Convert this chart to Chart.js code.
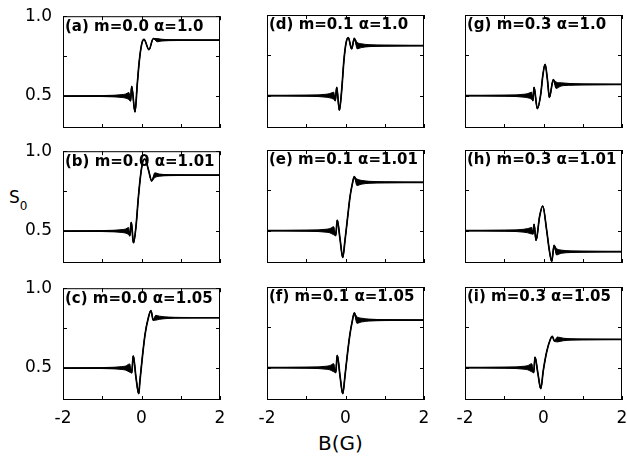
<!DOCTYPE html>
<html>
<head>
<meta charset="utf-8">
<script src="https://cdn.jsdelivr.net/npm/chart.js@4.4.1/dist/chart.umd.min.js"></script>
<style>
  body { margin: 0; background: #fff; }
  #wrap { position: relative; width: 627px; height: 466px; overflow: hidden; }
  #wrap canvas { position: absolute; }
  .lbl { position: absolute; font-family: "DejaVu Sans", sans-serif; color: #000; white-space: nowrap; }
</style>
</head>
<body>
<div id="wrap">
  <div class="lbl" style="left:9px;top:189px;font-size:17px;line-height:17px;">S<span style="font-size:12px;position:relative;top:7px;">0</span></div>
  <div class="lbl" style="left:318px;top:433px;font-size:20px;line-height:20px;">B(G)</div>
</div>
<script>
// tick values shared by all panels
var xTicks = [-2, -1, 0, 1, 2];
var yTicks = [0.5, 0.75, 1.0];

// (a) m=0.0 a=1.0   B values, s0 values, half width of the fast ripple
var aB = [-2, -1.0, -0.7, -0.5, -0.4, -0.32, -0.28, -0.25, -0.166, -0.107, -0.056, 0.005, 0.064, 0.19, 0.30, 0.4, 0.5, 0.7, 1.0, 2];
var aS = [0.5, 0.5, 0.5, 0.5, 0.5, 0.5, 0.47, 0.56, 0.40, 0.577, 0.72, 0.825, 0.855, 0.79, 0.86, 0.85, 0.85, 0.85, 0.85, 0.85];
var aF = [0, 0.003, 0.005, 0.009, 0.013, 0.022, 0, 0, 0, 0, 0, 0, 0, 0, 0, 0.01, 0.006, 0.003, 0.002, 0];

// (b) m=0.0 a=1.01
var bB = [-2, -1.0, -0.7, -0.5, -0.4, -0.33, -0.3, -0.26, -0.205, -0.14, -0.08, -0.02, 0.04, 0.09, 0.18, 0.26, 0.34, 0.45, 0.7, 1.0, 2];
var bS = [0.5, 0.5, 0.5, 0.5, 0.5, 0.5, 0.47, 0.555, 0.426, 0.53, 0.71, 0.855, 0.94, 0.95, 0.88, 0.814, 0.85, 0.85, 0.85, 0.85, 0.85];
var bF = [0, 0.003, 0.005, 0.009, 0.013, 0.022, 0, 0, 0, 0, 0, 0, 0, 0, 0, 0, 0.015, 0.007, 0.003, 0.002, 0];

// (c) m=0.0 a=1.05
var cB = [-2, -1.0, -0.7, -0.5, -0.4, -0.3, -0.25, -0.21, -0.14, -0.07, -0.04, 0.03, 0.09, 0.17, 0.24, 0.30, 0.36, 0.45, 0.7, 1.0, 2];
var cS = [0.5, 0.5, 0.5, 0.5, 0.5, 0.5, 0.47, 0.576, 0.44, 0.339, 0.42, 0.587, 0.71, 0.81, 0.86, 0.80, 0.815, 0.815, 0.815, 0.815, 0.815];
var cF = [0, 0.003, 0.005, 0.009, 0.013, 0.026, 0, 0, 0, 0, 0, 0, 0, 0, 0, 0, 0.015, 0.01, 0.004, 0.002, 0];

// (d) m=0.1 a=1.0
var dB = [-2, -1.0, -0.7, -0.5, -0.4, -0.3, -0.26, -0.224, -0.157, -0.097, -0.04, 0.013, 0.07, 0.157, 0.224, 0.3, 0.4, 0.6, 1.0, 2];
var dS = [0.5, 0.5, 0.5, 0.5, 0.5, 0.5, 0.47, 0.552, 0.41, 0.535, 0.72, 0.825, 0.86, 0.79, 0.855, 0.81, 0.81, 0.81, 0.81, 0.81];
var dF = [0, 0.003, 0.005, 0.009, 0.013, 0.022, 0, 0, 0, 0, 0, 0, 0, 0, 0, 0.02, 0.012, 0.006, 0.003, 0];

// (e) m=0.1 a=1.01
var eB = [-2, -1.0, -0.7, -0.5, -0.4, -0.3, -0.25, -0.21, -0.14, -0.07, -0.013, 0.056, 0.115, 0.174, 0.224, 0.29, 0.4, 0.6, 1.0, 2];
var eS = [0.5, 0.5, 0.5, 0.5, 0.5, 0.5, 0.47, 0.566, 0.45, 0.335, 0.44, 0.587, 0.71, 0.79, 0.835, 0.80, 0.80, 0.80, 0.80, 0.80];
var eF = [0, 0.003, 0.005, 0.009, 0.013, 0.025, 0, 0, 0, 0, 0, 0, 0, 0, 0, 0.02, 0.012, 0.006, 0.003, 0];

// (f) m=0.1 a=1.05
var fB = [-2, -1.0, -0.7, -0.5, -0.4, -0.3, -0.25, -0.21, -0.14, -0.07, -0.013, 0.056, 0.115, 0.174, 0.224, 0.29, 0.4, 0.6, 1.0, 2];
var fS = [0.5, 0.5, 0.5, 0.5, 0.5, 0.5, 0.47, 0.576, 0.45, 0.339, 0.45, 0.60, 0.71, 0.79, 0.84, 0.795, 0.795, 0.795, 0.795, 0.795];
var fF = [0, 0.003, 0.005, 0.009, 0.013, 0.025, 0, 0, 0, 0, 0, 0, 0, 0, 0, 0.02, 0.012, 0.006, 0.003, 0];

// (g) m=0.3 a=1.0
var gB = [-2, -1.0, -0.7, -0.5, -0.4, -0.3, -0.27, -0.24, -0.158, -0.07, -0.02, 0.04, 0.1, 0.15, 0.25, 0.32, 0.45, 0.7, 1.0, 2];
var gS = [0.5, 0.5, 0.5, 0.5, 0.5, 0.5, 0.47, 0.552, 0.42, 0.51, 0.62, 0.695, 0.6, 0.49, 0.60, 0.565, 0.57, 0.57, 0.57, 0.57];
var gF = [0, 0.003, 0.005, 0.009, 0.013, 0.022, 0, 0, 0, 0, 0, 0, 0, 0, 0, 0.02, 0.01, 0.005, 0.003, 0];

// (h) m=0.3 a=1.01
var hB = [-2, -1.0, -0.7, -0.5, -0.4, -0.3, -0.27, -0.24, -0.19, -0.1, -0.02, 0.08, 0.148, 0.21, 0.27, 0.33, 0.45, 0.7, 1.0, 2];
var hS = [0.5, 0.5, 0.5, 0.5, 0.5, 0.5, 0.48, 0.54, 0.44, 0.587, 0.653, 0.504, 0.38, 0.31, 0.41, 0.37, 0.37, 0.37, 0.37, 0.37];
var hF = [0, 0.003, 0.005, 0.009, 0.013, 0.02, 0, 0, 0, 0, 0, 0, 0, 0, 0, 0.02, 0.01, 0.005, 0.003, 0];

// (i) m=0.3 a=1.05
var iB = [-2, -1.0, -0.7, -0.5, -0.4, -0.3, -0.25, -0.217, -0.14, -0.07, -0.005, 0.08, 0.166, 0.224, 0.28, 0.35, 0.5, 0.7, 1.0, 2];
var iS = [0.5, 0.5, 0.5, 0.5, 0.5, 0.5, 0.47, 0.566, 0.46, 0.37, 0.483, 0.597, 0.67, 0.694, 0.665, 0.675, 0.675, 0.675, 0.675, 0.675];
var iF = [0, 0.003, 0.005, 0.009, 0.013, 0.025, 0, 0, 0, 0, 0, 0, 0, 0, 0, 0.015, 0.008, 0.004, 0.002, 0];

var panels = [
  { label: "(a) m=0.0 \u03b1=1.0",  B: aB, S: aS, F: aF, col: 0, row: 0 },
  { label: "(b) m=0.0 \u03b1=1.01", B: bB, S: bS, F: bF, col: 0, row: 1 },
  { label: "(c) m=0.0 \u03b1=1.05", B: cB, S: cS, F: cF, col: 0, row: 2 },
  { label: "(d) m=0.1 \u03b1=1.0",  B: dB, S: dS, F: dF, col: 1, row: 0 },
  { label: "(e) m=0.1 \u03b1=1.01", B: eB, S: eS, F: eF, col: 1, row: 1 },
  { label: "(f) m=0.1 \u03b1=1.05", B: fB, S: fS, F: fF, col: 1, row: 2 },
  { label: "(g) m=0.3 \u03b1=1.0",  B: gB, S: gS, F: gF, col: 2, row: 0 },
  { label: "(h) m=0.3 \u03b1=1.01", B: hB, S: hS, F: hF, col: 2, row: 1 },
  { label: "(i) m=0.3 \u03b1=1.05", B: iB, S: iS, F: iF, col: 2, row: 2 }
];

// plot box positions on the page
var boxLeft = [63, 267, 465];
var boxTop = [15, 150, 287];
var boxW = 157, boxH = 113;
var padL = 50, padT = 12, padR = 10, padB = 28;

Chart.defaults.color = "#000";
Chart.defaults.font.family = "'DejaVu Sans', sans-serif";

// frame with inward ticks and the panel caption
var framePlugin = {
  id: "frame",
  afterDraw: function(chart, args, opts) {
    var ctx = chart.ctx, a = chart.chartArea;
    var x = chart.scales.x, y = chart.scales.y;
    ctx.save();
    ctx.strokeStyle = "#000";
    ctx.lineWidth = 1;
    ctx.strokeRect(a.left + 0.5, a.top + 0.5, a.right - a.left - 1, a.bottom - a.top - 1);
    ctx.beginPath();
    xTicks.forEach(function(v) {
      var px = Math.round(x.getPixelForValue(v)) + 0.5;
      ctx.moveTo(px, a.bottom); ctx.lineTo(px, a.bottom - 4);
      ctx.moveTo(px, a.top); ctx.lineTo(px, a.top + 4);
    });
    yTicks.forEach(function(v) {
      var py = Math.round(y.getPixelForValue(v)) + 0.5;
      ctx.moveTo(a.left, py); ctx.lineTo(a.left + 4, py);
      ctx.moveTo(a.right, py); ctx.lineTo(a.right - 4, py);
    });
    ctx.stroke();
    ctx.fillStyle = "#000";
    ctx.font = "bold 15px 'DejaVu Sans'";
    ctx.textBaseline = "top";
    ctx.fillText(opts.label, a.left + 2, a.top + 3);
    ctx.restore();
  }
};

function pts(B, S, F, sign) {
  return B.map(function(b, k) { return { x: b, y: S[k] + sign * F[k] }; });
}

var wrap = document.getElementById("wrap");

panels.forEach(function(p) {
  var cv = document.createElement("canvas");
  cv.width = boxW + padL + padR;
  cv.height = boxH + padT + padB;
  cv.style.left = (boxLeft[p.col] - padL) + "px";
  cv.style.top = (boxTop[p.row] - padT) + "px";
  wrap.appendChild(cv);

  var showY = p.col === 0;
  var showX = p.row === 2;

  new Chart(cv.getContext("2d"), {
    type: "line",
    data: {
      datasets: [
        { data: pts(p.B, p.S, p.F, 1), borderColor: "#000", borderWidth: 1, pointRadius: 0, fill: false, cubicInterpolationMode: "monotone" },
        { data: pts(p.B, p.S, p.F, -1), borderColor: "#000", borderWidth: 1, pointRadius: 0, fill: "-1", backgroundColor: "#000", cubicInterpolationMode: "monotone" },
        { data: pts(p.B, p.S, p.F, 0), borderColor: "#000", borderWidth: 1.7, pointRadius: 0, fill: false, cubicInterpolationMode: "monotone" }
      ]
    },
    options: {
      responsive: false,
      animation: false,
      devicePixelRatio: 1,
      layout: { padding: { top: padT, right: padR, left: 0, bottom: 0 } },
      plugins: {
        legend: { display: false },
        tooltip: { enabled: false },
        frame: { label: p.label }
      },
      scales: {
        x: {
          type: "linear",
          min: -2,
          max: 2,
          grid: { display: false },
          border: { display: false },
          afterBuildTicks: function(s) { s.ticks = xTicks.map(function(v) { return { value: v }; }); },
          afterFit: function(s) { s.height = padB; },
          ticks: {
            display: showX,
            padding: 0,
            maxRotation: 0,
            font: { size: 17 },
            callback: function(v) { return (v === -1 || v === 1) ? "" : String(v); }
          }
        },
        y: {
          type: "linear",
          min: 0.3,
          max: 1.0,
          grid: { display: false },
          border: { display: false },
          afterBuildTicks: function(s) { s.ticks = yTicks.map(function(v) { return { value: v }; }); },
          afterFit: function(s) { s.width = padL; },
          ticks: {
            display: showY,
            padding: 3,
            font: { size: 17 },
            callback: function(v) { return v === 0.75 ? "" : v.toFixed(1); }
          }
        }
      }
    },
    plugins: [framePlugin]
  });
});
</script>
</body>
</html>
